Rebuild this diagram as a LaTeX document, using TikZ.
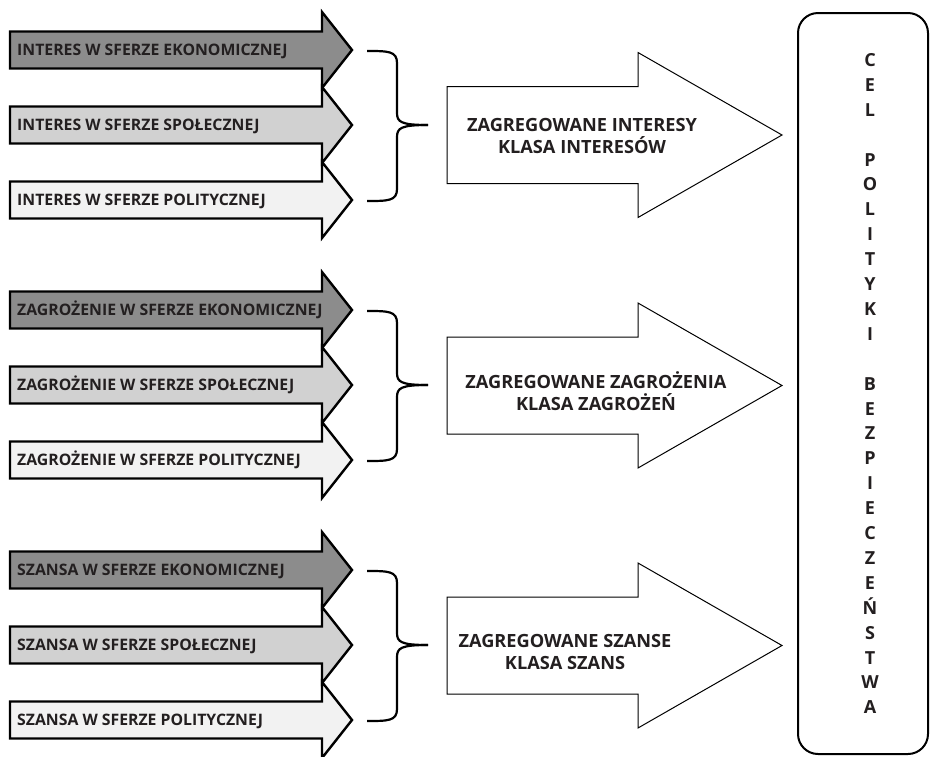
\documentclass[tikz,border=0pt]{standalone}
\usepackage{fontspec}
\setmainfont{Open Sans}
\definecolor{ekonfill}{gray}{0.55}
\definecolor{spolfill}{gray}{0.82}
\definecolor{polfill}{gray}{0.95}
\definecolor{ink}{RGB}{35,31,32}
\tikzset{
  smallarrow/.style={draw=black, line width=2.4pt, line join=miter},
  bigarrow/.style={draw=black, line width=1pt, fill=white},
  bracepath/.style={draw=black, line width=2.2pt},
  smalltext/.style={font=\fontsize{15.8}{18}\selectfont\bfseries, text=ink, anchor=base west, inner sep=0pt},
  bigtext/.style={font=\fontsize{18.2}{22}\selectfont\bfseries, text=ink, align=center, inner sep=0pt},
  coltext/.style={font=\fontsize{18}{20}\selectfont\bfseries, text=ink, anchor=base, inner sep=0pt},
}
\begin{document}
\begin{tikzpicture}[x=1pt, y=-1pt]
  \useasboundingbox (0,0) rectangle (930,756);

  % --- three groups: sphere arrows, brace, aggregated arrow ---
  \foreach \g/\yc/\cy/\tx/\ty/\word/\agg in {%
      0/50/135/582/136/INTERES/{ZAGREGOWANE INTERESY\\KLASA INTERESÓW},
      1/310/385.5/596/391/ZAGROŻENIE/{ZAGREGOWANE ZAGROŻENIA\\KLASA ZAGROŻEŃ},
      2/570/645.5/565/652/SZANSA/{ZAGREGOWANE SZANSE\\KLASA SZANS}} {

    % sphere arrows: tips 75 apart, heads touching
    \foreach \i/\sfera/\col in {0/EKONOMICZNEJ/ekonfill, 1/SPOŁECZNEJ/spolfill, 2/POLITYCZNEJ/polfill} {
      \pgfmathsetmacro{\ya}{\yc+75*\i}
      \filldraw[smallarrow, fill=\col]
        (10,\ya-18.5) -- (322,\ya-18.5) -- (322,\ya-38) -- (352,\ya)
        -- (322,\ya+38) -- (322,\ya+18.5) -- (10,\ya+18.5) -- cycle;
      \node[smalltext] (s\g\i) at (17,\ya+5.6) {\word{} W SFERZE \sfera};
    }

    % brace gathering the three tips
    \pgfmathsetmacro{\ytop}{\yc+1}
    \pgfmathsetmacro{\ymid}{\yc+75}
    \pgfmathsetmacro{\ybot}{\yc+151}
    \draw[bracepath] (367,\ytop) .. controls (388,\ytop) and (397,\ytop) .. (397,\ytop+12)
      -- (397,\ymid-12) .. controls (397,\ymid-3) and (401,\ymid) .. (428,\ymid);
    \draw[bracepath] (367,\ybot) .. controls (388,\ybot) and (397,\ybot) .. (397,\ybot-12)
      -- (397,\ymid+12) .. controls (397,\ymid+3) and (401,\ymid) .. (428,\ymid);

    % aggregated arrow
    \draw[bigarrow] (447,\cy-48.5) -- (638,\cy-48.5) -- (638,\cy-82.5) -- (782,\cy)
      -- (638,\cy+82.5) -- (638,\cy+48.5) -- (447,\cy+48.5) -- cycle;
    \node[bigtext] (agg\g) at (\tx,\ty) {\agg};
  }

  % --- goal box on the right ---
  \node[draw=black, line width=2pt, rounded corners=20pt, minimum width=130pt,
        minimum height=741pt, inner sep=0pt] (celbox) at (863,383.5) {};
  \foreach \l [count=\k from 0] in {C,E,L,{},P,O,L,I,T,Y,K,I,{},B,E,Z,P,I,E,C,Z,E,Ń,S,T,W,A}
    \node[coltext] (lt\k) at (870,60+24.9*\k+6.4) {\l};

\end{tikzpicture}
\end{document}
